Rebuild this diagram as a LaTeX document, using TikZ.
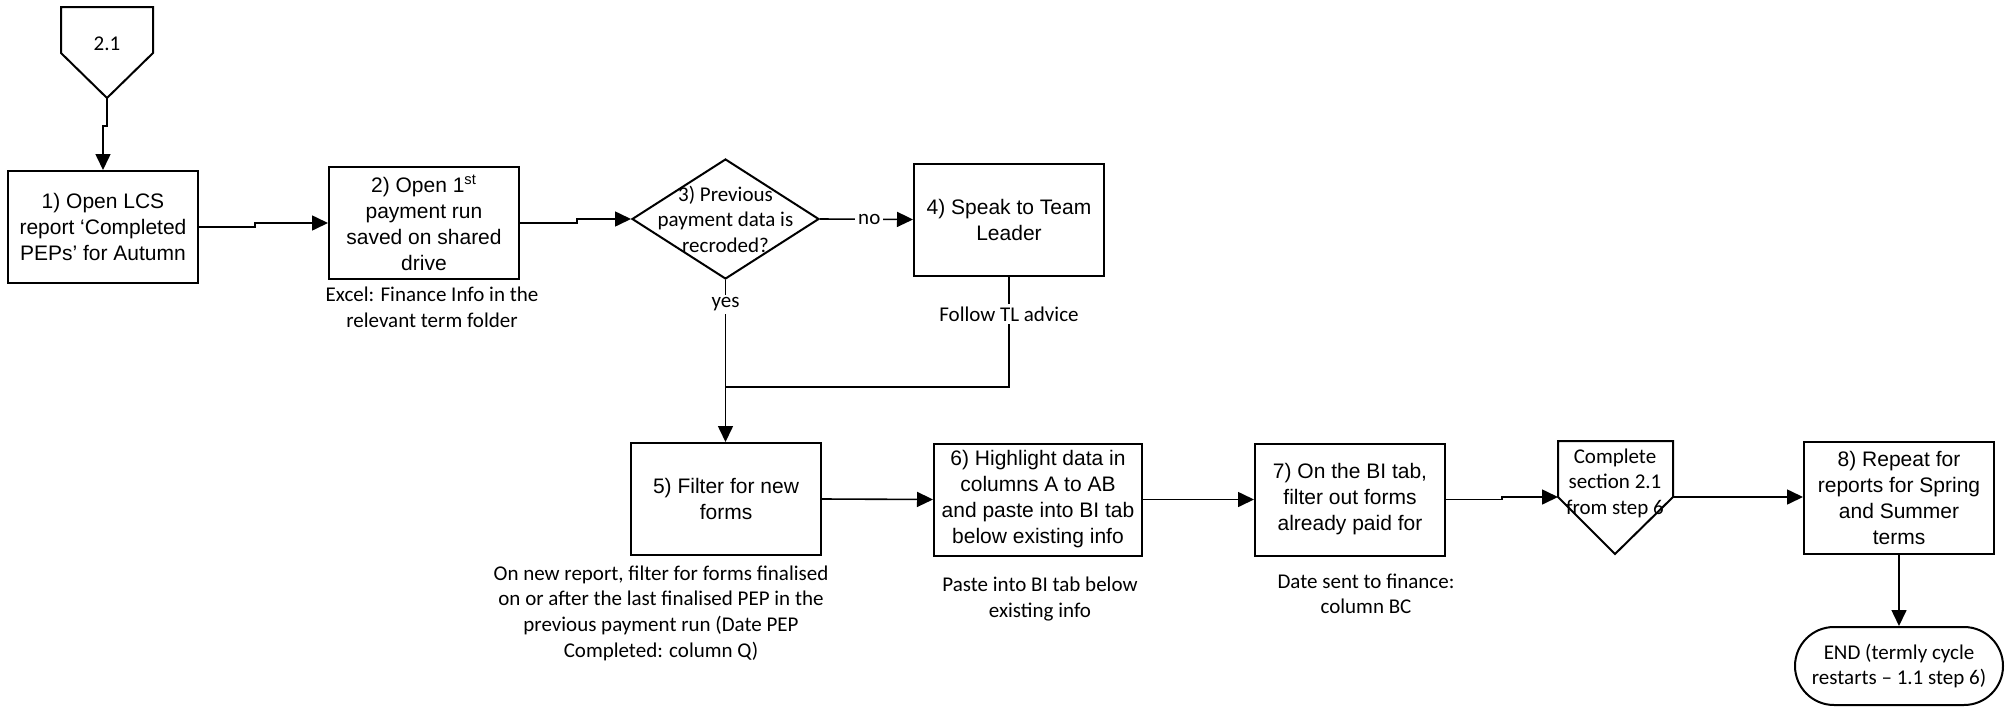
\documentclass[tikz,border=0pt]{standalone}
\usepackage{fontspec}
\setmainfont{Liberation Sans}
\newfontfamily\calfont{Carlito}
\usetikzlibrary{arrows.meta,shapes.geometric,calc}

\tikzset{
  line/.style={line width=0.8pt, draw=black},
  shapeline/.style={line width=1pt, draw=black},
  arr/.style={line, -{Triangle[length=8pt,width=7.5pt]}},
  stepbox/.style={shapeline, rectangle, minimum width=95pt, minimum height=56pt,
    inner sep=0pt, align=center, font=\fontsize{10.5}{13}\selectfont},
  decision/.style={shapeline, diamond, minimum width=93.5pt, minimum height=60pt, inner sep=0pt},
  calbl/.style={align=center, inner sep=0pt, font=\calfont\fontsize{10.5}{12.8}\selectfont},
  onlbl/.style={calbl, fill=white, inner sep=1.5pt},
  endbox/.style={shapeline, rectangle, rounded corners=19.5pt, minimum width=104pt,
    minimum height=39pt, inner sep=0pt, align=center,
    font=\calfont\fontsize{10.5}{12.8}\selectfont},
  pent/.style={shapeline, line join=miter}
}

\begin{document}
\begin{tikzpicture}[x=0.5pt, y=-0.5pt]
  \fill[white] (0,0) rectangle (2009,707);
  \useasboundingbox (0,0) rectangle (2009,707);

  % off-page reference at the top
  \draw[pent] (61,7) -- (153,7) -- (153,53) -- (107,98) -- (61,53) -- cycle;
  \coordinate (p1tip) at (107,98);
  \node[calbl] (p1) at (107,44) {2.1};

  % process steps
  \node[stepbox] (b1) at (103,227) {1) Open LCS\\report ‘Completed\\PEPs’ for Autumn};
  \node[stepbox] (b2) at (424,223) {2) Open 1\textsuperscript{st}\\payment run\\saved on shared\\drive};
  \node[decision, label={[calbl]center:3) Previous\\payment data is\\recroded?}] (d3) at (725.5,219) {};
  \node[stepbox] (b4) at (1009,219.5) {4) Speak to Team\\Leader};
  \node[stepbox] (b5) at (726,499) {5) Filter for new\\forms};
  \node[stepbox, minimum width=104pt] (b6) at (1038,499.5) {6) Highlight data in\\columns A to AB\\and paste into BI tab\\below existing info};
  \node[stepbox] (b7) at (1350,499.5) {7) On the BI tab,\\filter out forms\\already paid for};
  \node[stepbox] (b8) at (1899,497.5) {8) Repeat for\\reports for Spring\\and Summer\\terms};
  \node[endbox] (end) at (1899,666) {END (termly cycle\\restarts – 1.1 step 6)};

  % off-page reference between steps 7 and 8
  \draw[pent] (1558,441) -- (1673,441) -- (1673,497) -- (1615,554) -- (1558,497) -- cycle;
  \coordinate (p2left) at (1558,497);
  \coordinate (p2right) at (1673,497);
  \node[calbl] (p2) at (1615,483) {Complete\\section 2.1\\from step 6};

  % notes under the steps
  \node[calbl] (n2) at (432,307) {Excel: Finance Info in the\\relevant term folder};
  \node[calbl] (n5) at (661,613) {On new report, filter for forms finalised\\on or after the last finalised PEP in the\\previous payment run (Date PEP\\Completed: column Q)};
  \node[calbl] (n6) at (1040,599) {Paste into BI tab below\\existing info};
  \node[calbl] (n7) at (1366,594) {Date sent to finance:\\column BC};

  % connectors
  \coordinate (join) at (725.5,387);
  \draw[arr] (p1tip) -- ++(0,28) -| (b1.north);
  \draw[arr] (b1.east) -- ++(56,0) |- (b2.west);
  \draw[arr] (b2.east) -- ++(57,0) |- (d3.west);
  \draw[arr] (d3.east) -- node[onlbl, pos=0.53] {no} (b4.west);
  \draw[arr] (d3.south) -- node[onlbl, pos=0.15] {yes} (d3.south |- b5.north);
  \draw[line] (b4.south) -- node[onlbl, pos=0.34] {Follow TL advice} (b4.south |- join) -- (join);
  \draw[arr] (b5.east) -- (b6.west);
  \draw[arr] (b6.east) -- (b7.west);
  \draw[arr] (b7.east) -- ++(56,0) |- (p2left);
  \draw[arr] (p2right) -- (p2right -| b8.west);
  \draw[arr] (b8.south) -- (end.north);
\end{tikzpicture}
\end{document}
